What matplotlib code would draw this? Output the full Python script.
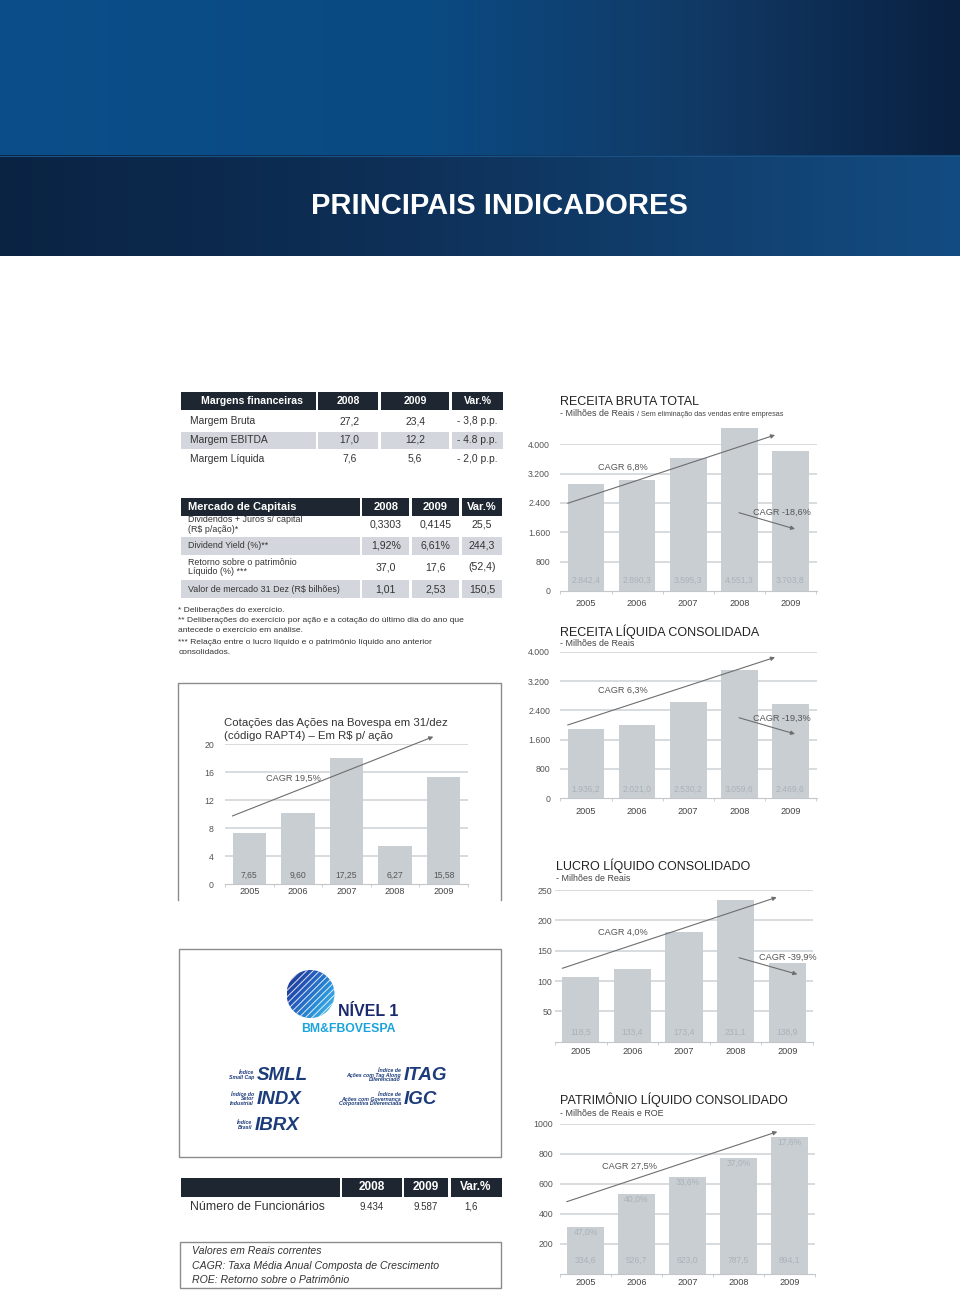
import matplotlib
matplotlib.use('Agg')
import matplotlib.pyplot as plt
import numpy as np
from matplotlib.patches import Rectangle, Circle
from matplotlib.colors import to_rgb, LinearSegmentedColormap

W, H = 960, 1294
plt.rcParams['font.family'] = ['Liberation Sans', 'DejaVu Sans']

# ---------------- data ----------------
years = ['2005', '2006', '2007', '2008', '2009']

rb_values = [2920, 3030, 3640, 4440, 3820]
rb_labels = ['2.842,4', '2.890,3', '3.595,3', '4.551,3', '3.703,8']
rb_ticks = [0, 800, 1600, 2400, 3200, 4000]
rb_ticklabels = ['0', '800', '1.600', '2.400', '3.200', '4.000']

rl_values = [1880, 1990, 2630, 3510, 2570]
rl_labels = ['1.936,2', '2.021,0', '2.530,2', '3.059,6', '2.469,6']
rl_ticks = [0, 800, 1600, 2400, 3200, 4000]
rl_ticklabels = ['0', '800', '1.600', '2.400', '3.200', '4.000']

ll_values = [107, 120, 180, 234, 129]
ll_labels = ['118,5', '133,4', '173,4', '231,1', '138,9']
ll_ticks = [50, 100, 150, 200, 250]
ll_ticklabels = ['50', '100', '150', '200', '250']

pl_values = [313, 533, 647, 773, 913]
pl_labels = ['334,6', '526,7', '623,0', '787,5', '894,1']
pl_roe = ['47,0%', '40,0%', '33,6%', '37,0%', '17,6%']
pl_ticks = [200, 400, 600, 800, 1000]
pl_ticklabels = ['200', '400', '600', '800', '1000']

cot_values = [7.3, 10.2, 18.0, 5.4, 15.25]
cot_labels = ['7,65', '9,60', '17,25', '6,27', '15,58']
cot_ticks = [0, 4, 8, 12, 16, 20]
cot_ticklabels = ['0', '4', '8', '12', '16', '20']

margens_header = ['Margens financeiras', '2008', '2009', 'Var.%']
margens_rows = ['Margem Bruta', 'Margem EBITDA', 'Margem Líquida']
margens_2008 = ['27,2', '17,0', '7,6']
margens_2009 = ['23,4', '12,2', '5,6']
margens_var = ['- 3,8 p.p.', '- 4.8 p.p.', '- 2,0 p.p.']

mercado_header = ['Mercado de Capitais', '2008', '2009', 'Var.%']
mercado_rows = ['Dividendos + Juros s/ capital\n(R$ p/ação)*', 'Dividend Yield (%)**',
                'Retorno sobre o patrimônio\nLíquido (%) ***', 'Valor de mercado 31 Dez (R$ bilhões)']
mercado_2008 = ['0,3303', '1,92%', '37,0', '1,01']
mercado_2009 = ['0,4145', '6,61%', '17,6', '2,53']
mercado_var = ['25,5', '244,3', '(52,4)', '150,5']

mercado_notes = ['* Deliberações do exercício.',
                 '** Deliberações do exercício por ação e a cotação do último dia do ano que',
                 'antecede o exercício em análise.',
                 '*** Relação entre o lucro líquido e o patrimônio líquido ano anterior',
                 'consolidados.']

func_header = ['2008', '2009', 'Var.%']
func_row = ['Número de Funcionários', '9.434', '9.587', '1,6']

legend_notes = ['Valores em Reais correntes',
                'CAGR: Taxa Média Anual Composta de Crescimento',
                'ROE: Retorno sobre o Patrimônio']

# ---------------- styles ----------------
DARK = '#1e2731'
SHADE = '#d3d7dd'
BAR = '#c9ced3'
GRID = '#d6d9dc'
BASE = '#c3c7cb'
FAINT = '#aab1b8'
TXT = '#333333'
AXT = '#555555'

fig = plt.figure(figsize=(W / 100, H / 100), dpi=100)
fig.patch.set_facecolor('white')

bg = fig.add_axes([0, 0, 1, 1])
bg.set_xlim(0, W)
bg.set_ylim(H, 0)
bg.axis('off')
bg.set_zorder(0)


def T(ax, x, y, s, size, color=TXT, ha='left', va='center', weight='normal', style='normal', **kw):
    return ax.text(x, y, s, fontsize=size, color=color, ha=ha, va=va,
                   fontweight=weight, fontstyle=style, **kw)


def R(x0, y0, x1, y1, color, **kw):
    bg.add_patch(Rectangle((x0, y0), x1 - x0, y1 - y0, facecolor=color, lw=0, **kw))


def hgrad(stops, n=960):
    xs = np.linspace(0, 1, n)
    pos = [p for p, c in stops]
    cols = np.array([to_rgb(c) for p, c in stops])
    img = np.zeros((1, n, 3))
    for k in range(3):
        img[0, :, k] = np.interp(xs, pos, cols[:, k])
    return img


# ---------------- header ----------------
bg.imshow(hgrad([(0, '#0a4e89'), (0.45, '#0b4a82'), (0.72, '#113a66'), (1, '#0a2141')]),
          extent=(0, W, 155, 0), aspect='auto', interpolation='bilinear', zorder=0)
bg.imshow(hgrad([(0, '#0a2343'), (0.4, '#0e2f56'), (0.72, '#113f6e'), (1, '#134c82')]),
          extent=(0, W, 256, 155), aspect='auto', interpolation='bilinear', zorder=0)
bg.plot([0, W], [155.5, 155.5], color='#1a5286', lw=0.8, zorder=1)
T(bg, 499, 205.5, 'PRINCIPAIS INDICADORES', 21, color='white', ha='center', weight='bold')

# ---------------- Margens table ----------------
m_cols = [(181, 315.5), (317.7, 378.3), (381, 449), (451.7, 503.3)]
for (a, b) in m_cols:
    R(a, 392.3, b, 410, DARK)
T(bg, 252, 401.5, margens_header[0], 7.6, color='white', ha='center', weight='bold')
for (a, b), s in zip(m_cols[1:], margens_header[1:]):
    T(bg, (a + b) / 2, 401.5, s, 7.6, color='white', ha='center', weight='bold')
m_y = [421, 440, 458.5]
for i, y in enumerate(m_y):
    if i == 1:
        for (a, b) in m_cols:
            R(a, 431.7, b, 448.5, SHADE)
    T(bg, 190, y, margens_rows[i], 7.4)
    T(bg, 349.5, y, margens_2008[i], 7.4, ha='center')
    T(bg, 415, y, margens_2009[i], 7.4, ha='center')
    T(bg, 477.5, y, margens_var[i], 7.4, ha='center')

# ---------------- Mercado table ----------------
k_cols = [(181, 360), (362.3, 409), (411.7, 459.3), (461.7, 502.3)]
for (a, b) in k_cols:
    R(a, 498, b, 515.5, DARK)
T(bg, 188.3, 507, mercado_header[0], 8, color='white', weight='bold')
for (a, b), s in zip(k_cols[1:], mercado_header[1:]):
    T(bg, (a + b) / 2, 507, s, 8, color='white', ha='center', weight='bold')
k_y = [524.5, 546, 567, 589]
k_shade = [None, (536.7, 555), None, (580, 598.3)]
for i, y in enumerate(k_y):
    if k_shade[i]:
        for (a, b) in k_cols:
            R(a, k_shade[i][0], b, k_shade[i][1], SHADE)
    T(bg, 188.3, y, mercado_rows[i], 6.4, linespacing=1.0)
    T(bg, 385.7, y, mercado_2008[i], 7.6, ha='center')
    T(bg, 435.5, y, mercado_2009[i], 7.6, ha='center')
    T(bg, 482, y, mercado_var[i], 7.6, ha='center')
for y, s in zip([610, 621, 631, 642, 652], mercado_notes):
    T(bg, 178.3, y, s, 6.1)

# ---------------- boxes ----------------
bg.plot([178.3, 178.3, 501, 501], [900, 682.7, 682.7, 900], color='#8c8c8c', lw=1.0)
bg.add_patch(Rectangle((179, 949.3), 322, 207.4, facecolor='none', edgecolor='#8c8c8c', lw=1.0))

# Logo: globe
cx, cy, r = 310.5, 994, 24
circ = Circle((cx, cy), r, transform=bg.transData)
gy, gx = np.mgrid[0:1:80j, 0:1:80j]
gval = (gx * 0.6 + gy * 0.4)
gcm = LinearSegmentedColormap.from_list('g', ['#1a2f86', '#2456b8', '#2a8fd8', '#4fc3ee'])
im = bg.imshow(gval, cmap=gcm, extent=(cx - r, cx + r, cy + r, cy - r), origin='upper', zorder=2)
im.set_clip_path(circ)
for c in np.arange(-40, 44, 6.5):
    ln, = bg.plot([cx - r + c - 10, cx + r + c + 10], [cy + r + 10, cy - r - 10],
                  color='white', lw=0.7, alpha=0.85, zorder=3)
    ln.set_clip_path(circ)
T(bg, 337.5, 1011.7, 'NÍVEL 1', 11.5, color='#1b2a6e', weight='bold')
T(bg, 348, 1029, 'BM&FBOVESPA', 8.8, color='#1aa3dc', ha='center', weight='bold')

LOGO = '#1b3b7a'
T(bg, 256.5, 1075, 'SMLL', 13.5, color=LOGO, weight='bold', style='italic')
T(bg, 254, 1075, 'Índice\nSmall Cap', 3.8, color=LOGO, ha='right', weight='bold', style='italic', linespacing=0.95)
T(bg, 256.5, 1099, 'INDX', 13.5, color=LOGO, weight='bold', style='italic')
T(bg, 254, 1099, 'Índice do\nSetor\nIndustrial', 3.8, color=LOGO, ha='right', weight='bold', style='italic', linespacing=0.95)
T(bg, 255, 1125, 'IBRX', 13.5, color=LOGO, weight='bold', style='italic')
T(bg, 252.3, 1125, 'Índice\nBrasil', 3.8, color=LOGO, ha='right', weight='bold', style='italic', linespacing=0.95)
T(bg, 403.3, 1075, 'ITAG', 13.5, color=LOGO, weight='bold', style='italic')
T(bg, 401, 1075, 'Índice de\nAções com Tag Along\nDiferenciado', 3.8, color=LOGO, ha='right', weight='bold', style='italic', linespacing=0.95)
T(bg, 403.3, 1099, 'IGC', 13.5, color=LOGO, weight='bold', style='italic')
T(bg, 401, 1099, 'Índice de\nAções com Governança\nCorporativa Diferenciada', 3.8, color=LOGO, ha='right', weight='bold', style='italic', linespacing=0.95)

# ---------------- Funcionarios table ----------------
f_cols = [(181, 340), (342, 401.5), (404, 448), (450.5, 501.7)]
for (a, b) in f_cols:
    R(a, 1178.3, b, 1196.7, DARK)
for (a, b), s in zip(f_cols[1:], func_header):
    T(bg, (a + b) / 2, 1187.5, s, 8.5, color='white', ha='center', weight='bold')
T(bg, 190, 1206.7, func_row[0], 8.8)
T(bg, 372, 1206.7, func_row[1], 7, ha='center')
T(bg, 425.7, 1206.7, func_row[2], 7, ha='center')
T(bg, 471, 1206.7, func_row[3], 7, ha='center')

bg.add_patch(Rectangle((180, 1241.7), 321, 46.6, facecolor='none', edgecolor='#8c8c8c', lw=1.0))
for y, s in zip([1251, 1265.7, 1280], legend_notes):
    T(bg, 191.7, y, s, 7.6, style='italic')

# ---------------- chart titles ----------------
T(bg, 560, 402, 'RECEITA BRUTA TOTAL', 9, color='#222222')
T(bg, 560.5, 414, '- Milhões de Reais', 6.4, color='#444444')
T(bg, 637, 414.3, '/ Sem eliminação das vendas entre empresas', 5.2, color='#444444')
T(bg, 560, 631.7, 'RECEITA LÍQUIDA CONSOLIDADA', 9, color='#222222')
T(bg, 560.5, 644, '- Milhões de Reais', 6.4, color='#444444')
T(bg, 555.7, 865.7, 'LUCRO LÍQUIDO CONSOLIDADO', 9, color='#222222')
T(bg, 556, 878.3, '- Milhões de Reais', 6.4, color='#444444')
T(bg, 560, 1100, 'PATRIMÔNIO LÍQUIDO CONSOLIDADO', 9, color='#222222')
T(bg, 560.5, 1113.3, '- Milhões de Reais e ROE', 6.4, color='#444444')
T(bg, 224.3, 723.3, 'Cotações das Ações na Bovespa em 31/dez', 8.2, color='#333333')
T(bg, 224.3, 736, '(código RAPT4) – Em R$ p/ ação', 8.2, color='#333333')


# ---------------- bar charts ----------------
def bar_chart(gx0, gx1, y0px, ytop_px, ytop_val, c0, sp, width, values, ticks, ticklabels,
              tick_pad, year_pad, val_labels, val_off, val_color):
    ax = fig.add_axes([gx0 / W, 1 - y0px / H, (gx1 - gx0) / W, (y0px - ytop_px) / H])
    ax.set_facecolor('none')
    ax.set_zorder(2)
    x = np.arange(len(values))
    ax.set_xlim((gx0 - c0) / sp, (gx1 - c0) / sp)
    ax.set_ylim(0, ytop_val)
    for t in ticks:
        if t > 0:
            ax.axhline(t, color=GRID, lw=1.3, zorder=1)
    ax.bar(x, values, width=width, color=BAR, zorder=2, clip_on=False)
    for s in ['top', 'right', 'left']:
        ax.spines[s].set_visible(False)
    ax.spines['bottom'].set_color(BASE)
    ax.spines['bottom'].set_linewidth(0.8)
    ax.set_yticks(ticks)
    ax.set_yticklabels(ticklabels)
    ax.tick_params(axis='y', length=0, pad=tick_pad, labelsize=6.3, labelcolor=AXT)
    ax.set_xticks(x)
    ax.set_xticklabels(years)
    ax.tick_params(axis='x', which='major', length=0, pad=year_pad, labelsize=6.6, labelcolor='#444444')
    ax.set_xticks(np.arange(-0.5, len(values)), minor=True)
    ax.tick_params(axis='x', which='minor', length=2.5, width=0.6, color=BASE)
    for xi, lab in zip(x, val_labels):
        ax.annotate(lab, (xi, 0), xytext=(0, val_off), textcoords='offset points',
                    ha='center', va='center', fontsize=6.2, color=val_color, zorder=3)
    return ax


bar_chart(560, 817, 591, 444.3, 4000, 586, 51.1, 0.72, rb_values, rb_ticks, rb_ticklabels,
          7.2, 6.0, rb_labels, 8.0, FAINT)
bar_chart(560, 817, 798.3, 651.7, 4000, 586, 51.1, 0.72, rl_values, rl_ticks, rl_ticklabels,
          7.2, 6.3, rl_labels, 6.7, FAINT)
bar_chart(555, 813, 1041.7, 890, 250, 581.3, 53, 0.72, ll_values, ll_ticks, ll_ticklabels,
          2.2, 4.0, ll_labels, 6.5, FAINT)
axp = bar_chart(560, 815, 1273.7, 1123.7, 1000, 585.3, 52.1, 0.72, pl_values, pl_ticks, pl_ticklabels,
                4.8, 3.0, pl_labels, 9.9, FAINT)
for xi, (v, lab) in enumerate(zip(pl_values, pl_roe)):
    axp.annotate(lab, (xi, v), xytext=(0, -4.3), textcoords='offset points',
                 ha='center', va='center', fontsize=6.2, color=FAINT, zorder=3)
bar_chart(225, 468, 884.3, 744, 20, 249.2, 49.3, 0.69, cot_values, cot_ticks, cot_ticklabels,
          8.0, 1.6, cot_labels, 6.7, '#555555')

# ---------------- overlay: CAGR arrows ----------------
ov = fig.add_axes([0, 0, 1, 1])
ov.set_xlim(0, W)
ov.set_ylim(H, 0)
ov.axis('off')
ov.set_facecolor('none')
ov.set_zorder(5)

ARW = dict(arrowstyle='-|>', color='#6e6e6e', lw=0.8, mutation_scale=6, shrinkA=0, shrinkB=0)


def cagr(x0, y0, x1, y1, tx, ty, label):
    ov.annotate('', xy=(x1, y1), xytext=(x0, y0), arrowprops=ARW)
    T(ov, tx, ty, label, 6.6, color='#555555', ha='center')


cagr(567.7, 503.3, 775, 435, 623, 467.7, 'CAGR 6,8%')
cagr(739, 512.7, 795, 529, 782, 512.7, 'CAGR -18,6%')
cagr(567.7, 725, 775, 657.3, 623.3, 690, 'CAGR 6,3%')
cagr(739, 717.7, 795, 734, 782.3, 718.3, 'CAGR -19,3%')
cagr(562.3, 968.3, 776.7, 897.3, 623.3, 932, 'CAGR 4,0%')
cagr(739, 957.7, 797.3, 974.3, 788.3, 957.3, 'CAGR -39,9%')
cagr(566.7, 1201.7, 777.3, 1131.7, 630, 1166, 'CAGR 27,5%')
cagr(232.3, 816, 433.3, 736.7, 293.3, 778.3, 'CAGR 19,5%')

fig.savefig('out.png', dpi=100, facecolor='white')
